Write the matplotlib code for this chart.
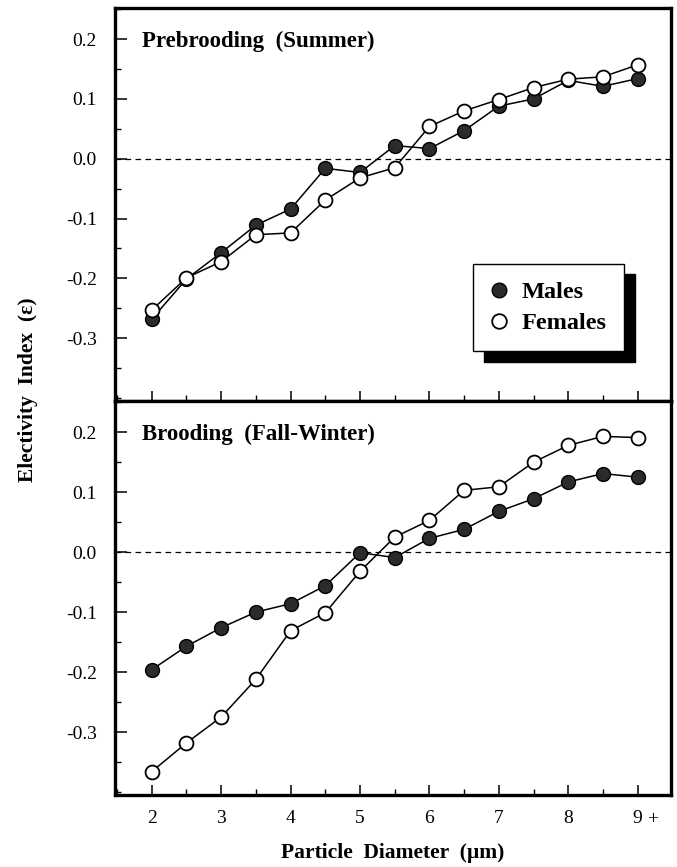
import matplotlib
matplotlib.use("Agg")
import matplotlib.pyplot as plt
from matplotlib.ticker import MultipleLocator, FixedLocator
from matplotlib.lines import Line2D

plt.rcParams['font.family'] = ['Liberation Serif', 'DejaVu Serif']
plt.rcParams['axes.unicode_minus'] = False

# ---- data ----
diameters = [2, 2.5, 3, 3.5, 4, 4.5, 5, 5.5, 6, 6.5, 7, 7.5, 8, 8.5, 9]
x_tick_values = [2, 3, 4, 5, 6, 7, 8, 9]
x_tick_labels = ["2", "3", "4", "5", "6", "7", "8", "9"]
y_tick_values = [-0.3, -0.2, -0.1, 0.0, 0.1, 0.2]
y_tick_labels = ["-0.3", "-0.2", "-0.1", "0.0", "0.1", "0.2"]

summer_males = [-0.268, -0.201, -0.157, -0.111, -0.084, -0.016, -0.023, 0.022,
                0.017, 0.047, 0.088, 0.100, 0.131, 0.121, 0.134]
summer_females = [-0.253, -0.199, -0.172, -0.127, -0.124, -0.069, -0.032, -0.015,
                  0.054, 0.080, 0.099, 0.119, 0.133, 0.137, 0.157]
winter_males = [-0.196, -0.157, -0.126, -0.100, -0.086, -0.056, -0.001, -0.009,
                0.023, 0.038, 0.068, 0.089, 0.117, 0.131, 0.125]
winter_females = [-0.366, -0.318, -0.275, -0.212, -0.131, -0.101, -0.032, 0.025,
                  0.053, 0.103, 0.109, 0.150, 0.178, 0.193, 0.191]

panel_titles = ["Prebrooding  (Summer)", "Brooding  (Fall-Winter)"]
legend_labels = ["Males", "Females"]
x_label = "Particle  Diameter  (\u00b5m)"
y_label = "Electivity  Index  (\u03b5)"

# ---- figure ----
W, H = 677, 867
fig = plt.figure(figsize=(W / 100, H / 100), dpi=100)
left, right = 115 / W, 671 / W
top_t, mid, bot_b = 1 - 8 / H, 1 - 401 / H, 1 - 795 / H
ax1 = fig.add_axes([left, mid, right - left, top_t - mid])
ax2 = fig.add_axes([left, bot_b, right - left, mid - bot_b])

male_style = dict(marker='o', ms=10, mfc='#2b2b2b', mec='black', mew=1.0,
                  color='black', lw=1.1)
female_style = dict(marker='o', ms=10, mfc='white', mec='black', mew=1.3,
                    color='black', lw=1.1)

for ax, males, females, title in [(ax1, summer_males, summer_females, panel_titles[0]),
                                  (ax2, winter_males, winter_females, panel_titles[1])]:
    ax.axhline(0, color='black', lw=0.9, ls=(0, (4.5, 3.5)), zorder=1)
    ax.plot(diameters, males, zorder=3, **male_style)
    ax.plot(diameters, females, zorder=4, **female_style)
    ax.set_xlim(1.47, 9.48)
    ax.set_ylim(-0.405, 0.252)
    ax.yaxis.set_major_locator(FixedLocator(y_tick_values))
    ax.set_yticklabels(y_tick_labels)
    ax.yaxis.set_minor_locator(MultipleLocator(0.05))
    ax.xaxis.set_major_locator(FixedLocator(x_tick_values))
    ax.xaxis.set_minor_locator(MultipleLocator(0.5))
    ax.tick_params(axis='y', which='major', direction='in', length=8.5, width=1.1,
                   labelsize=14, pad=13)
    ax.tick_params(axis='y', which='minor', direction='in', length=4.5, width=1.0)
    ax.tick_params(axis='x', which='major', direction='in', length=7.5, width=1.1,
                   labelsize=14, pad=11)
    ax.tick_params(axis='x', which='minor', direction='in', length=4, width=1.0)
    for s in ax.spines.values():
        s.set_linewidth(2.4)
    ax.text(0.049, 0.915, title, transform=ax.transAxes, ha='left', va='center',
            fontsize=16.5, fontweight='bold')

ax1.tick_params(axis='x', labelbottom=False)
ax2.set_xticklabels(x_tick_labels)
ax2.annotate('+', xy=(x_tick_values[-1], 0), xycoords=('data', 'axes fraction'),
             xytext=(11, -18), textcoords='offset points', ha='center', va='center',
             fontsize=14)

handles = [Line2D([], [], ls='none', marker='o', ms=10.5, mfc='#2b2b2b', mec='black', mew=1.0),
           Line2D([], [], ls='none', marker='o', ms=10.5, mfc='white', mec='black', mew=1.3)]
leg = ax1.legend(handles, legend_labels, loc='upper left',
                 bbox_to_anchor=((473 - 115) / 556, (401 - 264) / 393),
                 frameon=True, fancybox=False, framealpha=1, edgecolor='black',
                 prop={'size': 17.5, 'weight': 'bold'}, handlelength=0.75,
                 handletextpad=0.55, borderpad=0.7, labelspacing=0.38,
                 borderaxespad=0,
                 shadow={'ox': 8, 'oy': -7.5, 'facecolor': 'black',
                         'edgecolor': 'black', 'alpha': 1})
leg.get_frame().set_linewidth(1.0)
leg.set_zorder(10)

fig.text((115 + 671) / 2 / W, 1 - 853 / H, x_label, ha='center', va='center',
         fontsize=15.5, fontweight='bold')
fig.text(28 / W, 1 - 390 / H, y_label, ha='center', va='center', rotation=90,
         fontsize=15.5, fontweight='bold')

fig.savefig('out.png', dpi=100)
